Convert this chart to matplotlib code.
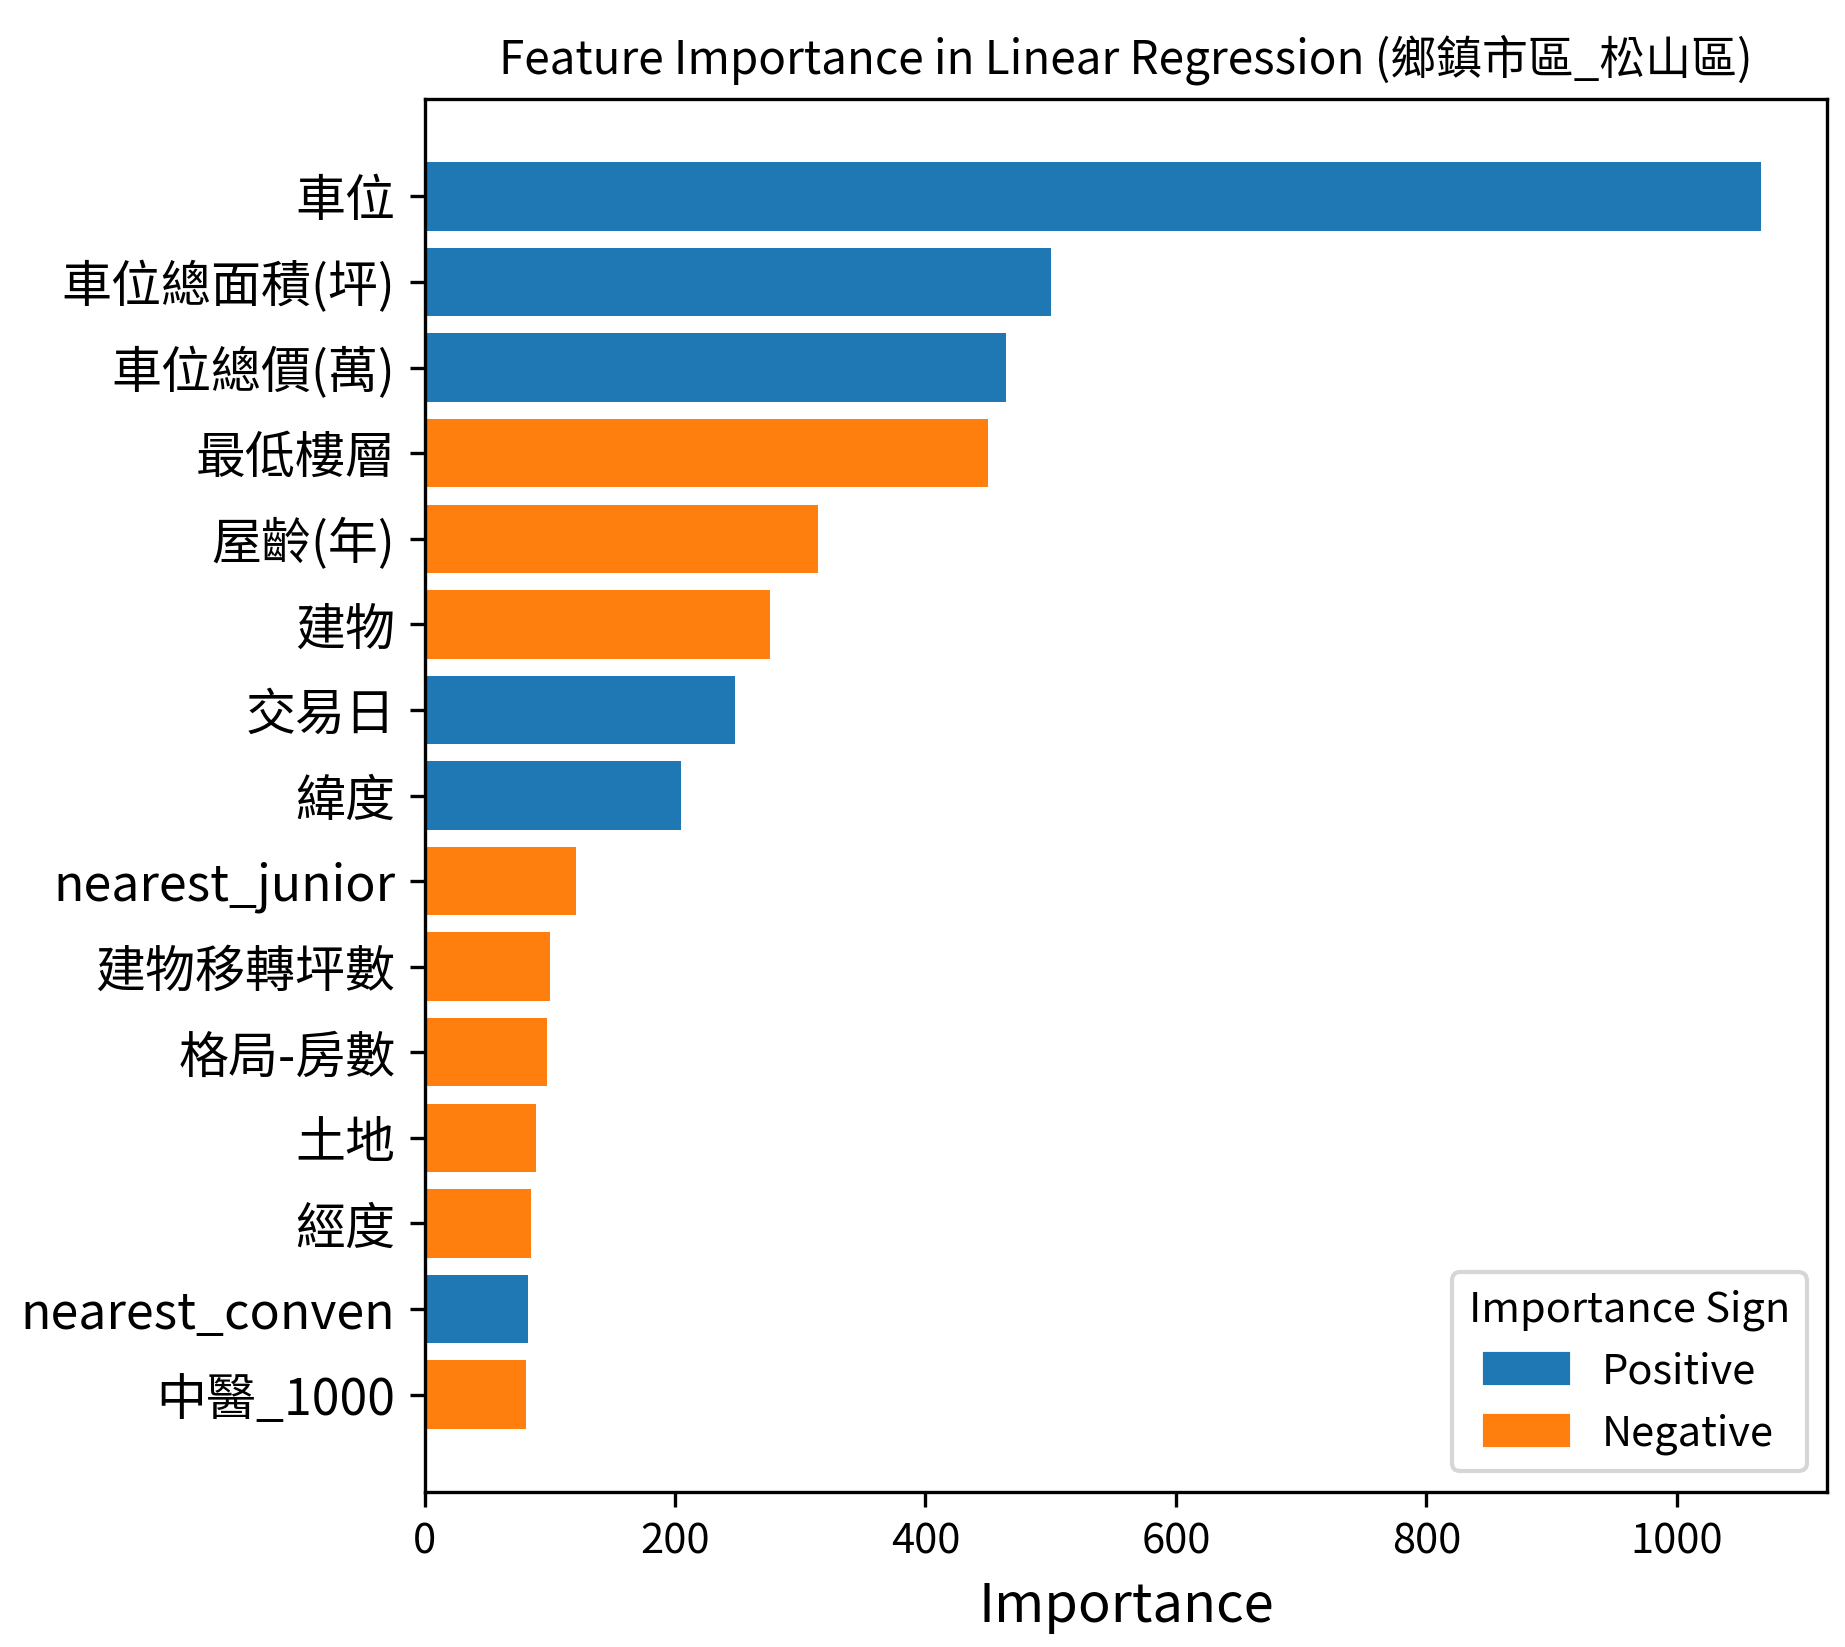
import numpy as np
import matplotlib
matplotlib.use('Agg')
import matplotlib.pyplot as plt
from matplotlib.patches import Patch

plt.rcParams['font.family'] = ['Noto Sans CJK TC', 'DejaVu Sans']

features = ['車位', '車位總面積(坪)', '車位總價(萬)', '最低樓層', '屋齡(年)', '建物', '交易日', '緯度',
            'nearest_junior', '建物移轉坪數', '格局-房數', '土地', '經度', 'nearest_conven', '中醫_1000']
importance = [1067, 500, 464, 450, 314, 276, 248, 205, 121, 100, 98, 89, 85, 83, 81]
signs = ['Positive', 'Positive', 'Positive', 'Negative', 'Negative', 'Negative', 'Positive', 'Positive',
         'Negative', 'Negative', 'Negative', 'Negative', 'Negative', 'Positive', 'Negative']

colors = {'Positive': '#1f77b4', 'Negative': '#ff7f0e'}

fig, ax = plt.subplots(figsize=(6.153, 5.49), dpi=300)
fig.subplots_adjust(left=0.23, right=0.99, top=0.94, bottom=0.094)

y = np.arange(len(features))
ax.barh(y, importance, color=[colors[s] for s in signs])
ax.set_yticks(y)
ax.set_yticklabels(features, fontsize=12)
ax.invert_yaxis()
ax.tick_params(axis='x', labelsize=10)
ax.set_xlabel('Importance', fontsize=13)
ax.set_title('Feature Importance in Linear Regression (鄉鎮市區_松山區)', fontsize=11)

handles = [Patch(color=colors['Positive'], label='Positive'),
           Patch(color=colors['Negative'], label='Negative')]
ax.legend(handles=handles, title='Importance Sign', loc='lower right', fontsize=10, title_fontsize=10)

plt.savefig('out.png', dpi=300)
